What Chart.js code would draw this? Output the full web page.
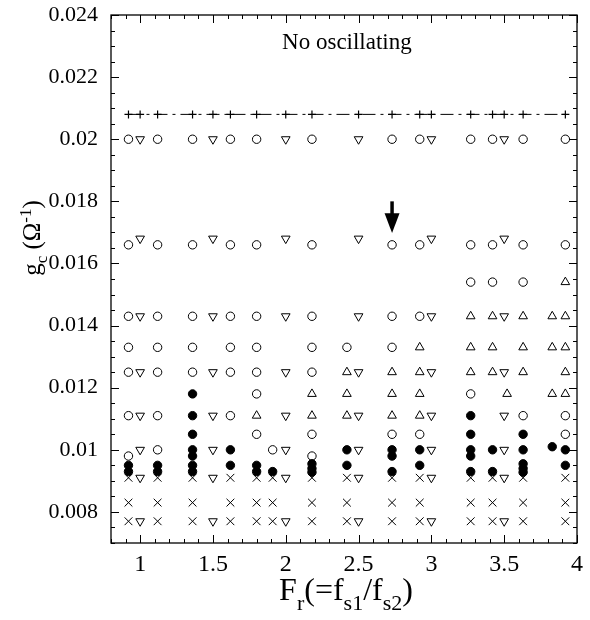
<!DOCTYPE html>
<html>
<head>
<meta charset="utf-8">
<script src="https://cdn.jsdelivr.net/npm/chart.js@4.4.0/dist/chart.umd.min.js"></script>
<style>
html,body{margin:0;padding:0;background:#fff;}
#wrap{width:590px;height:620px;}
</style>
</head>
<body>
<div id="wrap"><canvas id="myChart" width="590" height="620"></canvas></div>
<script>
// axis ranges + labelled ticks
const xMin = 0.8, xMax = 4.0;
const yMin = 0.007, yMax = 0.024;
const xTickValues = [1, 1.5, 2, 2.5, 3, 3.5, 4];
const yTickValues = [0.008, 0.010, 0.012, 0.014, 0.016, 0.018, 0.020, 0.022, 0.024];

// "+" : no oscillating boundary
const plusX = [0.92,1.0,1.12,1.36,1.5,1.62,1.80,2.0,2.18,2.5,2.73,2.92,3.0,3.27,3.42,3.5,3.63,3.92];
const plusY = [0.0208,0.0208,0.0208,0.0208,0.0208,0.0208,0.0208,0.0208,0.0208,0.0208,0.0208,0.0208,0.0208,0.0208,0.0208,0.0208,0.0208,0.0208];

// open circles
const circleX = [
  0.92,1.12,1.36,1.62,1.80,2.18,2.73,2.92,3.27,3.42,3.63,3.92,
  0.92,1.12,1.36,1.62,1.80,2.18,2.73,2.92,3.27,3.42,3.63,3.92,
  3.27,3.42,3.63,
  0.92,1.12,1.36,1.62,1.80,2.18,2.73,2.92,
  0.92,1.12,1.36,1.62,1.80,2.18,2.42,2.73,
  0.92,1.12,1.36,1.62,1.80,2.18,
  1.80,3.27,
  0.92,1.12,1.62,3.63,3.92,
  1.80,2.18,2.73,2.92,3.92,
  1.12,1.91,
  0.92,2.18
];
const circleY = [
  0.0200,0.0200,0.0200,0.0200,0.0200,0.0200,0.0200,0.0200,0.0200,0.0200,0.0200,0.0200,
  0.0166,0.0166,0.0166,0.0166,0.0166,0.0166,0.0166,0.0166,0.0166,0.0166,0.0166,0.0166,
  0.0154,0.0154,0.0154,
  0.0143,0.0143,0.0143,0.0143,0.0143,0.0143,0.0143,0.0143,
  0.0133,0.0133,0.0133,0.0133,0.0133,0.0133,0.0133,0.0133,
  0.0125,0.0125,0.0125,0.0125,0.0125,0.0125,
  0.0118,0.0118,
  0.0111,0.0111,0.0111,0.0111,0.0111,
  0.0105,0.0105,0.0105,0.0105,0.0105,
  0.0100,0.0100,
  0.0098,0.0098
];

// filled circles
const dotX = [
  0.92,0.92,
  1.12,1.12,
  1.36,1.36,1.36,1.36,1.36,1.36,1.36,
  1.62,1.62,
  1.80,1.80,
  1.91,
  2.18,2.18,2.18,
  2.42,2.42,
  2.73,2.73,2.73,
  2.92,2.92,
  3.27,3.27,3.27,3.27,3.27,
  3.42,3.42,
  3.63,3.63,3.63,3.63,3.63,
  3.83,
  3.92,3.92
];
const dotY = [
  0.0095,0.0093,
  0.0095,0.0093,
  0.0118,0.0111,0.0105,0.0100,0.0098,0.0095,0.0093,
  0.0100,0.0095,
  0.0095,0.0093,
  0.0093,
  0.00955,0.0094,0.00928,
  0.0100,0.0095,
  0.0100,0.0098,0.0093,
  0.0100,0.0095,
  0.0111,0.0105,0.0100,0.0098,0.0093,
  0.0100,0.0093,
  0.0105,0.0100,0.00955,0.0094,0.00928,
  0.0101,
  0.0100,0.0095
];

// open down-triangles
const triDownX = [
  1.0,1.5,2.0,2.5,3.0,3.5,
  1.0,1.5,2.0,2.5,3.0,3.5,
  1.0,1.5,2.0,2.5,3.0,3.5,
  1.0,1.5,2.0,2.5,3.0,3.5,
  1.0,1.5,2.0,2.5,3.0,3.5,
  1.0,1.5,2.0,2.5,3.0,3.5,
  1.0,1.5,2.0,2.5,3.0,3.5,
  1.0,1.5,2.0,2.5,3.0,3.5
];
const triDownY = [
  0.0200,0.0200,0.0200,0.0200,0.0200,0.0200,
  0.0168,0.0168,0.0168,0.0168,0.0168,0.0168,
  0.0143,0.0143,0.0143,0.0143,0.0143,0.0143,
  0.0125,0.0125,0.0125,0.0125,0.0125,0.0125,
  0.0111,0.0111,0.0111,0.0111,0.0111,0.0111,
  0.0100,0.0100,0.0100,0.0100,0.0100,0.0100,
  0.0091,0.0091,0.0091,0.0091,0.0091,0.0091,
  0.0077,0.0077,0.0077,0.0077,0.0077,0.0077
];

// open up-triangles
const triUpX = [
  3.92,
  3.27,3.42,3.63,3.83,3.92,
  2.92,3.27,3.42,3.63,3.83,3.92,
  2.42,2.73,2.92,3.27,3.42,3.63,3.92,
  2.18,2.42,2.73,2.92,3.52,3.83,3.92,
  1.80,2.18,2.42,2.73,2.92
];
const triUpY = [
  0.0154,
  0.0143,0.0143,0.0143,0.0143,0.0143,
  0.0133,0.0133,0.0133,0.0133,0.0133,0.0133,
  0.0125,0.0125,0.0125,0.0125,0.0125,0.0125,0.0125,
  0.0118,0.0118,0.0118,0.0118,0.0118,0.0118,0.0118,
  0.0111,0.0111,0.0111,0.0111,0.0111
];

// crosses
const crossX = [
  0.92,1.12,1.36,1.62,1.80,1.91,2.18,2.42,2.73,2.92,3.27,3.42,3.63,3.92,
  0.92,1.12,1.36,1.62,1.80,1.91,2.18,2.42,2.73,2.92,3.27,3.42,3.63,3.92,
  0.92,1.12,1.36,1.62,1.80,1.91,2.18,2.42,2.73,2.92,3.27,3.42,3.63,3.92
];
const crossY = [
  0.0091,0.0091,0.0091,0.0091,0.0091,0.0091,0.0091,0.0091,0.0091,0.0091,0.0091,0.0091,0.0091,0.0091,
  0.0083,0.0083,0.0083,0.0083,0.0083,0.0083,0.0083,0.0083,0.0083,0.0083,0.0083,0.0083,0.0083,0.0083,
  0.0077,0.0077,0.0077,0.0077,0.0077,0.0077,0.0077,0.0077,0.0077,0.0077,0.0077,0.0077,0.0077,0.0077
];

// arrow (points down at F_r = 2.73)
const arrowX = 2.73, arrowTop = 0.0180, arrowHead = 0.01762, arrowTip = 0.01698;
const noteText = 'No oscillating', noteX = 2.42, noteY = 0.0229;

const zip = (xs, ys) => xs.map((v, i) => ({x: v, y: ys[i]}));
const serif = '"Liberation Serif", "DejaVu Serif", serif';

// rich text: parts = [[text, 0|1|-1]]  0 normal, 1 subscript, -1 superscript
function richWidth(ctx, parts, size, small){
  let w = 0;
  parts.forEach(p => { ctx.font = (p[1] ? small : size) + 'px ' + serif; w += ctx.measureText(p[0]).width; });
  return w;
}
function drawRich(ctx, parts, x, y, size, small, subOff, supOff){
  let cx = x - richWidth(ctx, parts, size, small) / 2;
  parts.forEach(p => {
    ctx.font = (p[1] ? small : size) + 'px ' + serif;
    const dy = p[1] > 0 ? subOff : (p[1] < 0 ? -supOff : 0);
    ctx.fillText(p[0], cx, y + dy);
    cx += ctx.measureText(p[0]).width;
  });
}

const decor = {
  id: 'decor',
  afterDraw(chart){
    const {ctx, chartArea: a, scales: {x, y}} = chart;
    ctx.save();
    ctx.strokeStyle = '#000';
    ctx.fillStyle = '#000';
    ctx.lineWidth = 1.3;
    ctx.strokeRect(a.left, a.top, a.right - a.left, a.bottom - a.top);

    // inward ticks on all four sides
    ctx.lineWidth = 1;
    ctx.beginPath();
    for (let i = 0; i <= 32; i++){
      const v = xMin + i * 0.1;
      const px = Math.round(x.getPixelForValue(v)) + 0.5;
      const len = Math.abs(v * 2 - Math.round(v * 2)) < 1e-6 ? 8 : 4;
      ctx.moveTo(px, a.bottom); ctx.lineTo(px, a.bottom - len);
      ctx.moveTo(px, a.top); ctx.lineTo(px, a.top + len);
    }
    for (let i = 0; i <= 34; i++){
      const v = yMin + i * 0.0005;
      const py = Math.round(y.getPixelForValue(v)) + 0.5;
      const k = Math.round(v * 10000);
      const len = k % 20 === 0 ? 8 : 4;
      ctx.moveTo(a.left, py); ctx.lineTo(a.left + len, py);
      ctx.moveTo(a.right, py); ctx.lineTo(a.right - len, py);
    }
    ctx.stroke();

    // annotation
    ctx.font = '23px ' + serif;
    ctx.textAlign = 'center';
    ctx.textBaseline = 'alphabetic';
    ctx.fillText(noteText, x.getPixelForValue(noteX), y.getPixelForValue(noteY));
    ctx.textAlign = 'left';

    // arrow
    const ax = x.getPixelForValue(arrowX);
    ctx.lineWidth = 3.5;
    ctx.beginPath();
    ctx.moveTo(ax, y.getPixelForValue(arrowTop));
    ctx.lineTo(ax, y.getPixelForValue(arrowHead) + 2);
    ctx.stroke();
    ctx.beginPath();
    ctx.moveTo(ax - 7.5, y.getPixelForValue(arrowHead));
    ctx.lineTo(ax + 7.5, y.getPixelForValue(arrowHead));
    ctx.lineTo(ax, y.getPixelForValue(arrowTip));
    ctx.closePath();
    ctx.fill();

    // x title: F_r(=f_s1/f_s2)
    drawRich(ctx, [['F',0],['r',1],['(=f',0],['s1',1],['/f',0],['s2',1],[')',0]],
      346, 600, 32, 22, 10, 0);

    // y title: g_c (Ω^-1), rotated
    ctx.translate(40, 238);
    ctx.rotate(-Math.PI / 2);
    drawRich(ctx, [['g',0],['c',1],[' (',0],['\u03A9',0],['-1',-1],[')',0]],
      0, 0, 25, 17, 7, 9);
    ctx.restore();
  }
};

new Chart(document.getElementById('myChart'), {
  type: 'scatter',
  data: {
    datasets: [
      {data: zip(plusX, plusY), showLine: true, borderColor: '#000', borderWidth: 1,
       borderDash: [13, 5, 3, 5], pointStyle: 'cross', pointRadius: 4,
       pointBorderColor: '#000', pointBorderWidth: 1.2, pointBackgroundColor: '#000'},
      {data: zip(circleX, circleY), pointStyle: 'circle', pointRadius: 4.2,
       pointBorderColor: '#000', pointBorderWidth: 1, pointBackgroundColor: 'rgba(0,0,0,0)'},
      {data: zip(dotX, dotY), pointStyle: 'circle', pointRadius: 4.2,
       pointBorderColor: '#000', pointBorderWidth: 1, pointBackgroundColor: '#000'},
      {data: zip(triDownX, triDownY), pointStyle: 'triangle', rotation: 180, pointRadius: 5,
       pointBorderColor: '#000', pointBorderWidth: 1, pointBackgroundColor: 'rgba(0,0,0,0)'},
      {data: zip(triUpX, triUpY), pointStyle: 'triangle', pointRadius: 5,
       pointBorderColor: '#000', pointBorderWidth: 1, pointBackgroundColor: 'rgba(0,0,0,0)'},
      {data: zip(crossX, crossY), pointStyle: 'crossRot', pointRadius: 5.5,
       pointBorderColor: '#000', pointBorderWidth: 1}
    ]
  },
  options: {
    responsive: false,
    animation: false,
    devicePixelRatio: 1,
    events: [],
    layout: {padding: {top: 15, right: 13, left: 0, bottom: 0}},
    plugins: {legend: {display: false}, tooltip: {enabled: false}},
    scales: {
      x: {
        type: 'linear', min: xMin, max: xMax,
        grid: {display: false, drawTicks: false}, border: {display: false},
        afterBuildTicks: s => { s.ticks = xTickValues.map(v => ({value: v})); },
        afterFit: s => { s.height = 77; s.paddingLeft = 0; s.paddingRight = 0; },
        ticks: {color: '#000', font: {family: serif, size: 24}, padding: 7, maxRotation: 0, callback: v => String(v)}
      },
      y: {
        type: 'linear', min: yMin, max: yMax,
        grid: {display: false, drawTicks: false}, border: {display: false},
        afterBuildTicks: s => { s.ticks = yTickValues.map(v => ({value: v})); },
        afterFit: s => { s.width = 111; s.paddingTop = 0; s.paddingBottom = 0; },
        ticks: {color: '#000', font: {family: serif, size: 22}, padding: 13, callback: v => String(+v.toFixed(3))}
      }
    }
  },
  plugins: [decor]
});
</script>
</body>
</html>
